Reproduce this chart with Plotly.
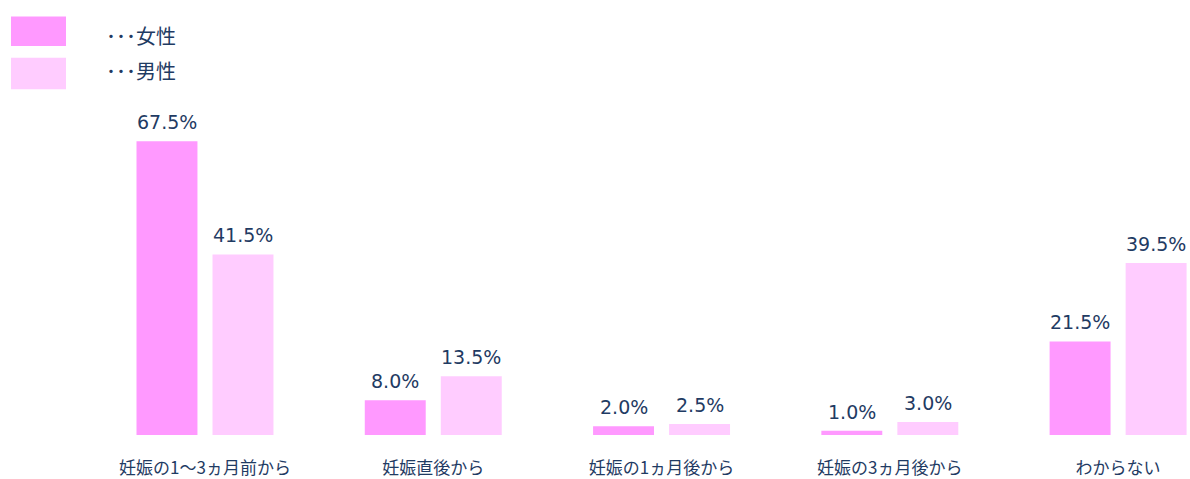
import plotly.graph_objects as go

categories = ["妊娠の1～3ヵ月前から", "妊娠直後から", "妊娠の1ヵ月後から", "妊娠の3ヵ月後から", "わからない"]
women = [67.5, 8.0, 2.0, 1.0, 21.5]
men = [41.5, 13.5, 2.5, 3.0, 39.5]
series_names = ["･･･女性", "･･･男性"]
colors = ["#FF99FF", "#FFCCFF"]

TEXT = "#1F3B63"
NUMFONT = "DejaVu Sans, Noto Sans CJK JP, sans-serif"
JPFONT = "Noto Sans CJK JP, sans-serif"

W, H = 1190, 479
T, B = 100, 38           # plot area top / bottom margins (px)
PH = H - T - B            # plot height in px

x_idx = list(range(len(categories)))
bar_w = 0.267
gap = 0.066
PX_PER_UNIT = 228.25
shift_px = (bar_w + gap) / 2 * PX_PER_UNIT

fig = go.Figure()
for vals, name, col, off, xs in [(women, series_names[0], colors[0], -(bar_w + gap / 2), -shift_px),
                                  (men, series_names[1], colors[1], gap / 2, shift_px)]:
    fig.add_trace(go.Bar(
        x=x_idx, y=vals, name=name, marker=dict(color=col, line=dict(width=0)),
        width=bar_w, offset=off, cliponaxis=False,
    ))
    for xi, v in zip(x_idx, vals):
        fig.add_annotation(x=xi, y=v, xref="x", yref="y", text=f"{v:.1f}%", showarrow=False,
                           xanchor="center", yanchor="bottom", xshift=xs, yshift=6,
                           font=dict(size=19, color=TEXT, family=NUMFONT))

fig.update_layout(
    width=W, height=H, barmode="overlay", showlegend=False,
    margin=dict(l=0, r=0, t=T, b=B),
    plot_bgcolor="white", paper_bgcolor="white",
    font=dict(family=JPFONT, color=TEXT, size=17),
    xaxis=dict(range=[-0.898, 4.315], tickmode="array", tickvals=x_idx, ticktext=categories,
               showgrid=False, zeroline=False, showline=False, ticks="",
               ticklabelstandoff=21, tickfont=dict(size=17, color=TEXT, family=JPFONT)),
    yaxis=dict(range=[0, PH / 4.43], visible=False),
)

def py(p):
    """pixel y from top -> paper coordinate"""
    return (H - B - p) / PH

# legend drawn as swatches + labels
legend_boxes = [(15, 45, 34), (57, 89, 70)]
for (top, bot, mid), name, col in zip(legend_boxes, series_names, colors):
    fig.add_shape(type="rect", xref="paper", yref="paper",
                  x0=11 / W, x1=66 / W, y0=py(bot), y1=py(top),
                  fillcolor=col, line=dict(width=0), layer="above")
    fig.add_annotation(xref="paper", yref="paper", x=104 / W, y=py(mid),
                       text=name, showarrow=False, xanchor="left", yanchor="middle",
                       font=dict(size=20, color=TEXT, family=JPFONT))

fig.write_html("out.html", config={"displayModeBar": False},
               post_script="document.body.style.margin='0';")
